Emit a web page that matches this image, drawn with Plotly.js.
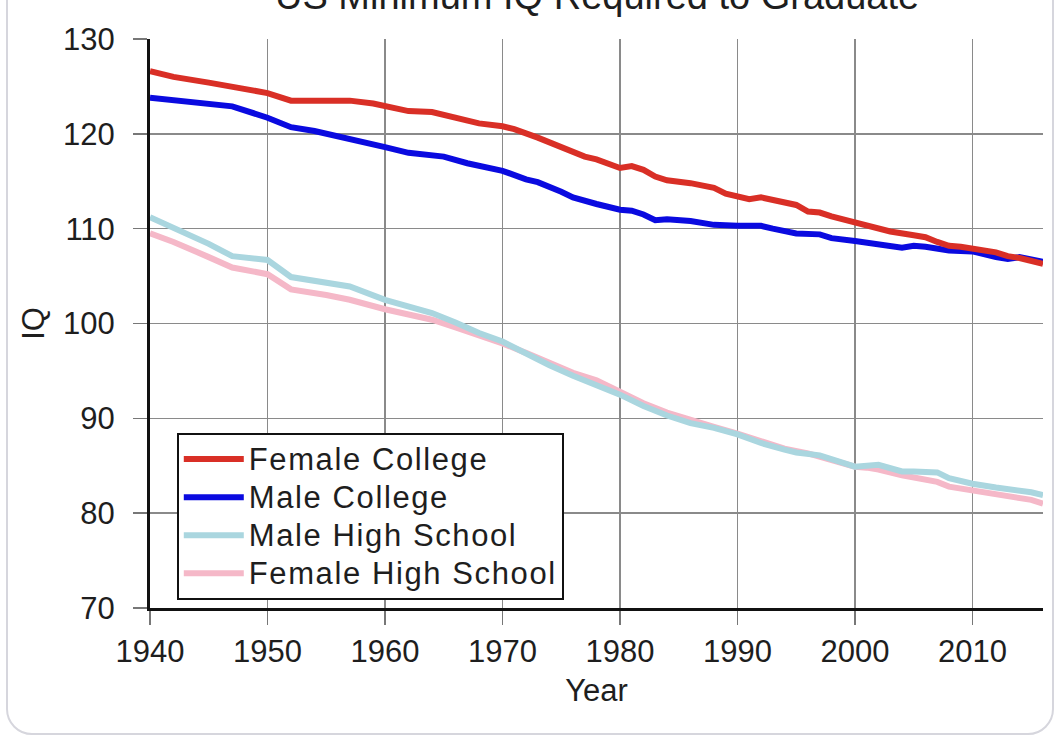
<!DOCTYPE html>
<html>
<head>
<meta charset="utf-8">
<script src="https://cdn.plot.ly/plotly-3.0.1.min.js"></script>
<style>
  html, body { margin: 0; padding: 0; background: #ffffff; overflow: hidden; }
  #wrap { position: relative; width: 1060px; height: 739px; overflow: hidden; }
  #chart { position: absolute; left: 0; top: 0; width: 1060px; height: 739px; }
  #card { position: absolute; left: 6px; top: -40px; width: 1044px; height: 771px;
          border: 2px solid #d6d6dd; border-radius: 26px; pointer-events: none; }
  .legendtext { font-size: 31px !important; letter-spacing: 1.6px; }
</style>
</head>
<body>
<div id="wrap">
  <div id="chart"></div>
  <div id="card"></div>
</div>
<script>
// ---- data ----
const femaleCollegeYears = [1940,1942,1945,1948,1950,1952,1955,1957,1959,1960,1962,1964,1966,1968,1970,1971,1973,1975,1977,1978,1980,1981,1982,1983,1984,1986,1988,1989,1990,1991,1992,1993,1995,1996,1997,1998,2000,2001,2003,2005,2006,2007,2008,2009,2010,2012,2013,2014,2016];
const femaleCollegeIQ    = [126.6,126.0,125.4,124.8,124.3,123.5,123.5,123.5,123.2,122.9,122.4,122.3,121.7,121.1,120.8,120.5,119.6,118.6,117.6,117.3,116.4,116.6,116.2,115.5,115.1,114.8,114.3,113.7,113.4,113.1,113.3,113.0,112.5,111.8,111.7,111.3,110.7,110.3,109.7,109.3,109.1,108.6,108.2,108.1,107.9,107.5,107.1,106.9,106.3];

const maleCollegeYears = [1940,1943,1947,1950,1952,1954,1957,1960,1962,1964,1965,1967,1970,1972,1973,1975,1976,1978,1980,1981,1982,1983,1984,1986,1988,1990,1992,1993,1995,1997,1998,2000,2002,2003,2004,2005,2006,2008,2010,2012,2013,2014,2016];
const maleCollegeIQ    = [123.8,123.4,122.9,121.7,120.7,120.3,119.5,118.6,118.0,117.8,117.6,116.9,116.1,115.2,114.9,113.9,113.3,112.6,112.0,111.9,111.5,110.9,111.0,110.8,110.4,110.3,110.3,110.0,109.5,109.4,109.0,108.7,108.4,108.3,108.0,108.2,108.1,107.7,107.6,107.0,106.8,107.0,106.5];

const maleHSYears = [1940,1942,1945,1947,1950,1952,1955,1957,1960,1962,1964,1966,1968,1970,1972,1974,1976,1978,1980,1982,1984,1986,1988,1990,1992,1994,1995,1997,1998,2000,2002,2003,2004,2005,2007,2008,2010,2012,2014,2015,2016];
const maleHSIQ    = [111.2,110.1,108.4,107.1,106.7,104.9,104.3,103.9,102.5,101.8,101.1,100.1,99.0,98.1,96.8,95.6,94.5,93.5,92.5,91.3,90.3,89.5,89.0,88.3,87.4,86.7,86.4,86.1,85.7,84.9,85.1,84.8,84.4,84.4,84.3,83.7,83.1,82.7,82.4,82.2,81.9];

const femaleHSYears = [1940,1942,1945,1947,1950,1952,1955,1957,1960,1962,1964,1966,1968,1970,1972,1974,1976,1978,1980,1982,1984,1986,1988,1990,1992,1994,1996,1998,2000,2001,2002,2004,2006,2007,2008,2010,2012,2014,2015,2016];
const femaleHSIQ    = [109.5,108.6,107.0,105.9,105.2,103.6,103.0,102.5,101.5,100.9,100.4,99.6,98.8,97.9,96.9,95.9,94.8,94.0,92.8,91.6,90.6,89.8,89.1,88.4,87.6,86.8,86.3,85.6,84.9,84.8,84.6,84.0,83.6,83.3,82.8,82.4,81.9,81.5,81.4,81.0];

const seriesNames = ['Female College','Male College','Male High School','Female High School'];
const chartTitle = 'US Minimum IQ Required to Graduate';
const xTicks = [1940,1950,1960,1970,1980,1990,2000,2010];
const yTicks = [70,80,90,100,110,120,130];

const FONT = 'Liberation Sans, Arial, Helvetica, sans-serif';
const INK = '#1e1e1e';

const traces = [
  {x: femaleHSYears, y: femaleHSIQ, name: seriesNames[3], legendrank: 4,
   mode: 'lines', line: {color: '#f5b8c8', width: 6}},
  {x: maleHSYears, y: maleHSIQ, name: seriesNames[2], legendrank: 3,
   mode: 'lines', line: {color: '#aad6df', width: 6}},
  {x: maleCollegeYears, y: maleCollegeIQ, name: seriesNames[1], legendrank: 2,
   mode: 'lines', line: {color: '#0a0ae0', width: 6}},
  {x: femaleCollegeYears, y: femaleCollegeIQ, name: seriesNames[0], legendrank: 1,
   mode: 'lines', line: {color: '#d92f26', width: 6}}
];

const layout = {
  width: 1060, height: 739,
  margin: {l: 150, r: 17, t: 39, b: 131, pad: 0},
  paper_bgcolor: 'rgba(0,0,0,0)', plot_bgcolor: '#ffffff',
  font: {family: FONT, color: INK, size: 31},
  showlegend: true,
  annotations: [{
    text: chartTitle, xref: 'paper', yref: 'paper', x: 0.5, y: 1,
    xanchor: 'center', yanchor: 'middle', yshift: 43, showarrow: false,
    font: {family: FONT, size: 38, color: INK}
  }],
  xaxis: {
    range: [1940, 2016], tickvals: xTicks, ticktext: xTicks.map(String),
    showgrid: true, gridcolor: '#8a8a8a', gridwidth: 1.5,
    showline: true, linecolor: '#111', linewidth: 3,
    ticks: 'outside', ticklen: 14, tickwidth: 1.5, tickcolor: '#777',
    tickfont: {family: FONT, size: 31, color: INK},
    zeroline: false, fixedrange: true,
    title: {text: 'Year', font: {family: FONT, size: 31, color: INK}, standoff: 12}
  },
  yaxis: {
    range: [70, 130], tickvals: yTicks, ticktext: yTicks.map(String),
    showgrid: true, gridcolor: '#8a8a8a', gridwidth: 1.5,
    showline: true, linecolor: '#111', linewidth: 3,
    ticks: 'outside', ticklen: 14, tickwidth: 1.5, tickcolor: '#777',
    ticklabelstandoff: 12,
    tickfont: {family: FONT, size: 31, color: INK},
    zeroline: false, fixedrange: true,
    title: {text: 'IQ', font: {family: FONT, size: 31, color: INK}, standoff: 10}
  },
  legend: {
    x: 0.030, y: 0.3076, xanchor: 'left', yanchor: 'top',
    bgcolor: '#ffffff', bordercolor: '#111', borderwidth: 2,
    font: {family: FONT, size: 27, color: INK},
    itemwidth: 60, traceorder: 'normal', tracegroupgap: 0,
    entrywidth: 410, entrywidthmode: 'pixels'
  }
};

Plotly.newPlot('chart', traces, layout, {displayModeBar: false, staticPlot: true});
</script>
</body>
</html>
